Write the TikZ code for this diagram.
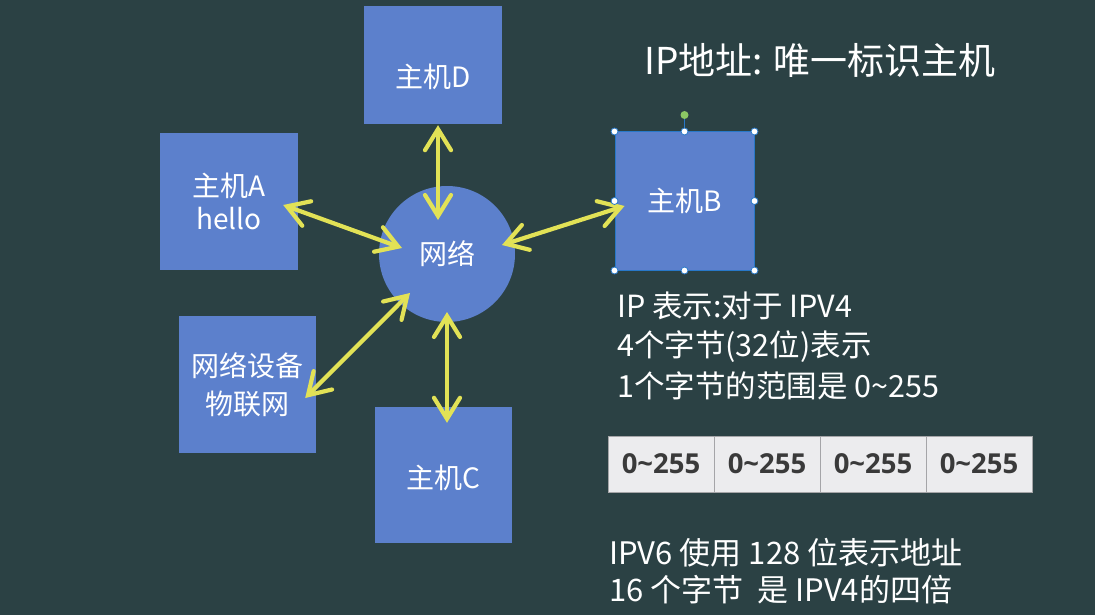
\documentclass[tikz,border=0pt]{standalone}
\usepackage{fontspec}
\setmainfont{Noto Sans CJK SC}
\newfontfamily\numfont{Open Sans}
\usetikzlibrary{arrows.meta,calc}
\definecolor{bg}{RGB}{43,65,68}
\definecolor{boxblue}{RGB}{92,128,204}
\definecolor{arrowyellow}{RGB}{226,226,86}
\definecolor{cellfill}{RGB}{236,236,238}
\definecolor{cellline}{RGB}{165,165,168}
\definecolor{celltext}{RGB}{58,58,58}
\definecolor{handleblue}{RGB}{40,120,200}
\definecolor{rotgreen}{RGB}{140,200,100}
\begin{document}
\begin{tikzpicture}[x=1pt,y=-1pt,
  hostbox/.style={fill=boxblue, text=white, inner sep=0pt, align=center,
    font=\fontsize{28}{33}\selectfont},
  hostlabel/.style={text=white, inner sep=0pt, font=\fontsize{28}{33}\selectfont},
  biarrow/.style={draw=arrowyellow, line width=4.2pt, line cap=round,
    {Straight Barb[length=21pt,width=26pt,line cap=round]}-{Straight Barb[length=21pt,width=26pt,line cap=round]}},
  bodytext/.style={text=white, inner sep=0pt, anchor=west,
    font=\fontsize{30.5}{36}\selectfont},
  cell/.style={fill=cellfill, draw=cellline, line width=0.8pt,
    minimum width=106pt, minimum height=56pt, inner sep=0pt,
    text=celltext, font=\numfont\bfseries\fontsize{27.5}{32}\selectfont},
  handle/.style={circle, fill=white, draw=handleblue, line width=0.8pt,
    minimum size=7pt, inner sep=0pt}
]
% background
\fill[bg] (0,0) rectangle (1095,615);
\useasboundingbox (0,0) rectangle (1095,615);

% hosts and the network
\node[hostbox, minimum width=138pt, minimum height=118pt] (D) at (433,65) {};
\node[hostlabel] (Dlabel) at (433,77) {主机D};
\node[hostbox, minimum width=138pt, minimum height=137pt] (A) at (229,201.5) {主机A\\hello};
\node[hostbox, minimum width=139pt, minimum height=138pt, draw=handleblue, line width=1pt] (B) at (684.5,201) {主机B};
\node[hostbox, minimum width=137pt, minimum height=137pt,
  font=\fontsize{28}{38}\selectfont] (dev) at (247.5,384.5) {网络设备\\物联网};
\node[hostbox, minimum width=137pt, minimum height=136pt] (C) at (443.5,475) {};
\node[hostlabel] (Clabel) at (443.5,478) {主机C};
\node[hostbox, circle, minimum size=136pt] (net) at (447,254) {网络};

% links
\draw[biarrow] ([shift={(5,1)}]D.south) -- ([shift={(-9,-34)}]net.center);
\draw[biarrow] ([shift={(-15,3.5)}]A.east) -- ([shift={(-45,-6)}]net.center);
\draw[biarrow] ([shift={(55,-9)}]net.center) -- ([shift={(10,5)}]B.west);
\draw[biarrow] ([shift={(-11,13.5)}]dev.east) -- ([shift={(-37,39)}]net.center);
\draw[biarrow] ([shift={(0,58)}]net.center) -- ([shift={(3.5,16)}]C.north);

% selection handles on host B
\coordinate (rot) at (684.5,115);
\draw[handleblue, line width=1pt] (B.north) -- (rot);
\node[circle, fill=rotgreen, minimum size=8pt, inner sep=0pt] (roth) at (rot) {};
\foreach \a in {north west,north,north east,east,south east,south,south west,west}
  \node[handle] at (B.\a) {};

% title
\node[text=white, inner sep=0pt, font=\fontsize{37}{42}\selectfont] (title) at (820,60) {IP地址: 唯一标识主机};

% IPv4 notes
\node[bodytext] (l1) at (617,306) {IP 表示:对于 IPV4};
\node[bodytext] (l2) at (617,347) {4个字节(32位)表示};
\node[bodytext] (l3) at (617,386) {1个字节的范围是 0\textasciitilde255};

% four bytes
\node[cell] (c1) at (661,464) {0\textasciitilde255};
\node[cell] (c2) at (767,464) {0\textasciitilde255};
\node[cell] (c3) at (873,464) {0\textasciitilde255};
\node[cell] (c4) at (979,464) {0\textasciitilde255};

% IPv6 notes
\node[bodytext, font=\fontsize{31}{36}\selectfont] (l4) at (609,553) {IPV6 使用 128 位表示地址};
\node[bodytext, font=\fontsize{31}{36}\selectfont] (l5) at (609,590) {16 个字节\ \ 是 IPV4的四倍};
\end{tikzpicture}
\end{document}
